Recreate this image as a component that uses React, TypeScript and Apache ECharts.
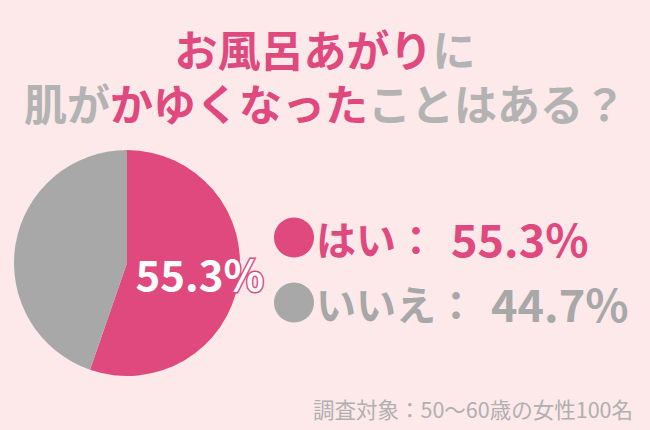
import React, { useEffect, useRef } from "react";
import * as echarts from "echarts";

const categories = ["はい", "いいえ"];
const values = [55.3, 44.7];
const colors = ["#e0497e", "#a8a8a8"];
const titleLine1 = [
  { t: "お風呂あがり", c: "p" },
  { t: "に", c: "g" },
];
const titleLine2 = [
  { t: "肌が", c: "g" },
  { t: "かゆくなった", c: "p" },
  { t: "ことはある？", c: "g" },
];
const footnote = "調査対象：50〜60歳の女性100名";

const FONT = "'Noto Sans CJK JP', 'Noto Sans', sans-serif";

export default function App() {
  const ref = useRef<HTMLDivElement>(null);
  useEffect(() => {
    if (!ref.current) return;
    const chart = echarts.init(ref.current, undefined, { renderer: "svg" });
    const titleText =
      titleLine1.map((s) => `{${s.c}|${s.t}}`).join("") +
      "\n" +
      titleLine2.map((s) => `{${s.c}|${s.t}}`).join("");
    const legendRich = (color: string) => ({
      n: { color, fontFamily: FONT, fontSize: 40, fontWeight: "bold" },
      v: { color, fontFamily: FONT, fontSize: 45, fontWeight: "bold", padding: [0, 0, 0, 15] },
    });
    chart.setOption({
      animation: false,
      backgroundColor: "#fde8ea",
      title: {
        text: titleText,
        left: "center",
        top: 16,
        textStyle: {
          fontFamily: FONT,
          rich: {
            p: { color: "#e0497e", fontSize: 43, fontWeight: "bold", fontFamily: FONT, lineHeight: 54 },
            g: { color: "#b3b3b3", fontSize: 43, fontWeight: "bold", fontFamily: FONT, lineHeight: 54 },
          },
        },
      },
      legend: {
        orient: "vertical",
        left: 269,
        top: 210,
        icon: "circle",
        itemWidth: 40,
        itemHeight: 40,
        itemGap: 20,
        selectedMode: false,
        data: categories.map((c, i) => ({
          name: c,
          textStyle: { color: colors[i], rich: legendRich(colors[i]) },
        })),
        formatter: (name: string) => {
          const i = categories.indexOf(name);
          return `{n|${name}：}{v|${values[i].toFixed(1)}%}`;
        },
        textStyle: { fontFamily: FONT, fontSize: 40, fontWeight: "bold", padding: [0, 0, 0, -3] },
      },
      graphic: [
        {
          type: "text",
          right: 17,
          top: 398,
          style: { text: footnote, fontFamily: FONT, fontSize: 21.5, fill: "#b0b0b0" },
        },
      ],
      series: [
        {
          type: "pie",
          center: [127, 263],
          radius: [0, 113],
          startAngle: 90,
          clockwise: true,
          label: { show: false },
          labelLine: { show: false },
          emphasis: { disabled: true },
          data: categories.map((c, i) => ({
            name: c,
            value: values[i],
            itemStyle: { color: colors[i] },
            label:
              i === 0
                ? {
                    show: true,
                    position: "inside",
                    formatter: `${values[i].toFixed(1)}%`,
                    fontFamily: FONT,
                    fontSize: 42,
                    fontWeight: "bold",
                    color: "#ffffff",
                    textBorderColor: "#e0497e",
                    textBorderWidth: 3,
                    padding: [12, 0, 0, 28],
                  }
                : { show: false },
          })),
        },
      ],
    });
    return () => chart.dispose();
  }, []);
  return <div ref={ref} style={{ width: 650, height: 430, position: "absolute", left: 0, top: 0 }} />;
}
